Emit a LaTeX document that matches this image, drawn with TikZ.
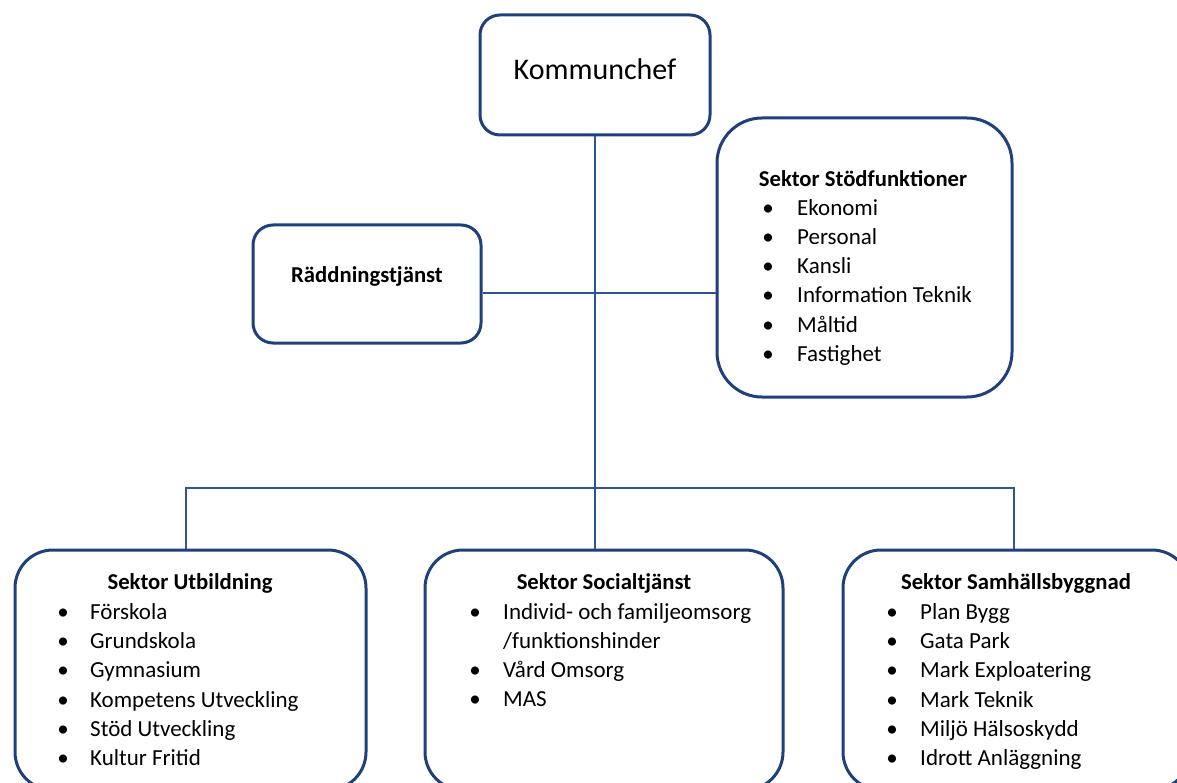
\documentclass[tikz,border=0pt]{standalone}
\usepackage{fontspec}
\setmainfont{Carlito}
\usetikzlibrary{positioning,calc}
\definecolor{orgblue}{RGB}{31,64,122}
\definecolor{linkblue}{RGB}{45,85,145}
\tikzset{unitbox/.style={draw=orgblue,line width=3pt,fill=white,inner sep=0pt},
  link/.style={draw=linkblue,line width=2pt},
  head/.style={font=\fontsize{22.7}{29}\selectfont\bfseries,inner sep=0pt,anchor=base},
  entry/.style={font=\fontsize{23}{29}\selectfont,inner sep=0pt,anchor=base west},
  dot/.style={font=\fontsize{23}{29}\selectfont,inner sep=0pt,anchor=base}}

\begin{document}
\begin{tikzpicture}[x=1pt,y=-1pt]
    \useasboundingbox (0,0) rectangle (1177,783);
    \clip (0,0) rectangle (1177,783);
    % boxes
    \node[unitbox,rounded corners=20pt,minimum width=230pt,minimum height=120pt] (chef) at (595,75) {};
    \node[unitbox,rounded corners=20pt,minimum width=228pt,minimum height=118pt] (rescue) at (367,284) {};
    \node[unitbox,rounded corners=45pt,minimum width=295pt,minimum height=279pt] (stod) at (864.5,257.5) {};
    \node[unitbox,rounded corners=38pt,minimum width=351pt,minimum height=240pt] (utb) at (190.5,670) {};
    \node[unitbox,rounded corners=38pt,minimum width=358pt,minimum height=240pt] (social) at (604,670) {};
    \node[unitbox,rounded corners=38pt,minimum width=347pt,minimum height=240pt] (samh) at (1016.5,670) {};
    % connectors
    \coordinate (hub) at (596,293);
    \coordinate (bus) at (596,488);
    \draw[link] (chef.south) -- (chef.south |- social.north);
    \draw[link] (rescue.east |- hub) -- (stod.west |- hub);
    \draw[link] ([xshift=-5pt]utb.north) |- (bus) -| ([xshift=-3pt]samh.north);
    % titles
    \node[head,font=\fontsize{30}{36}\selectfont] (chef-t) at (595,80) {Kommunchef};
    \node[head] (rescue-t) at (367,283) {Räddningstjänst};
    \node[head] (stod-t) at (863,187) {Sektor Stödfunktioner};
    \node[head] (utb-t) at (190,589) {Sektor Utbildning};
    \node[head] (social-t) at (604,589) {Sektor Socialtjänst};
    \node[head] (samh-t) at (1016,589) {Sektor Samhällsbyggnad};
    % lists
    \foreach \txt [count=\i] in {Ekonomi,Personal,Kansli,Information Teknik,Måltid,Fastighet}
    {
        \node[dot] (stod-d\i) at (768,187+29*\i) {•};
        \node[entry] (stod-\i) at (797,187+29*\i) {\txt};
    }
    \foreach \txt [count=\i] in {Förskola,Grundskola,Gymnasium,Kompetens Utveckling,Stöd Utveckling,Kultur Fritid}
    {
        \node[dot] (utb-d\i) at (63,590+29.3*\i) {•};
        \node[entry] (utb-\i) at (90,590+29.3*\i) {\txt};
    }
    \node[dot] (social-d1) at (475,619) {•};
    \node[entry] (social-1) at (503,619) {Individ- och familjeomsorg};
    \node[entry] (social-1b) at (503,648) {/funktionshinder};
    \foreach \txt [count=\i] in {Vård Omsorg,MAS}
    {
        \node[dot] (social-d\i) at (475,648.3+29.3*\i) {•};
        \node[entry] (social-\i) at (503,648.3+29.3*\i) {\txt};
    }
    \foreach \txt [count=\i] in {Plan Bygg,Gata Park,Mark Exploatering,Mark Teknik,Miljö Hälsoskydd,Idrott Anläggning}
    {
        \node[dot] (samh-d\i) at (892,590+29.3*\i) {•};
        \node[entry] (samh-\i) at (920,590+29.3*\i) {\txt};
    }
\end{tikzpicture}
\end{document}
